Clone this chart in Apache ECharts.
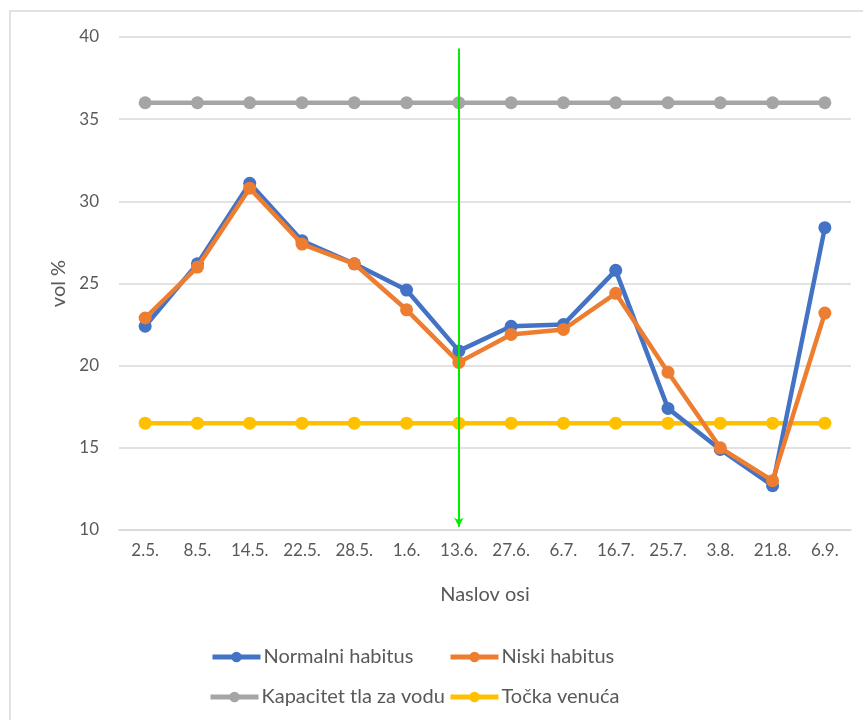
<!DOCTYPE html>
<html>
<head>
<meta charset="utf-8">
<script src="https://cdn.jsdelivr.net/npm/echarts@6/dist/echarts.min.js"></script>
<style>
  html, body { margin: 0; padding: 0; background: #fff; }
  #chart { width: 863px; height: 720px; }
</style>
</head>
<body>
<div id="chart"></div>
<script>
var chartDom = document.getElementById('chart');
var myChart = echarts.init(chartDom);

// datumi mjerenja
var dates = ['2.5.', '8.5.', '14.5.', '22.5.', '28.5.', '1.6.', '13.6.', '27.6.', '6.7.', '16.7.', '25.7.', '3.8.', '21.8.', '6.9.'];
var normalni = [22.4, 26.2, 31.1, 27.6, 26.2, 24.6, 20.9, 22.4, 22.5, 25.8, 17.4, 14.9, 12.7, 28.4];
var niski = [22.9, 26.0, 30.8, 27.4, 26.2, 23.4, 20.2, 21.9, 22.2, 24.4, 19.6, 15.0, 13.0, 23.2];
var kapacitet = [36, 36, 36, 36, 36, 36, 36, 36, 36, 36, 36, 36, 36, 36];
var venuce = [16.5, 16.5, 16.5, 16.5, 16.5, 16.5, 16.5, 16.5, 16.5, 16.5, 16.5, 16.5, 16.5, 16.5];
// zelena strelica kod 13.6.
var arrowDate = '13.6.';
var arrowFrom = 39.3;
var arrowTo = 10.2;

var font = 'Lato, "Open Sans", sans-serif';
var txt = '#595959';

function lineSeries(name, data, color, z) {
  return {
    name: name,
    type: 'line',
    data: data,
    z: z,
    symbol: 'circle',
    symbolSize: 13,
    lineStyle: { width: 4.5, color: color },
    itemStyle: { color: color },
    emphasis: { disabled: true },
    animation: false
  };
}

function legendAt(name, left, top) {
  return {
    data: [name],
    left: left,
    top: top,
    padding: 0,
    itemWidth: 48,
    itemHeight: 13,
    itemGap: 0,
    lineStyle: { width: 5 },
    textStyle: { fontFamily: font, fontSize: 20, color: txt, padding: [0, 0, 0, -2] },
    selectedMode: false
  };
}

var niskiSeries = lineSeries('Niski habitus', niski, '#ED7D31', 5);
niskiSeries.markLine = {
  silent: true,
  symbol: ['none', 'arrow'],
  symbolSize: [7, 9],
  label: { show: false },
  lineStyle: { color: '#00ee00', width: 2, type: 'solid' },
  data: [[{ coord: [arrowDate, arrowFrom] }, { coord: [arrowDate, arrowTo] }]],
  z: 10
};

var option = {
  backgroundColor: '#fff',
  animation: false,
  graphic: [{
    type: 'rect',
    shape: { x: 10, y: 11, width: 900, height: 800 },
    style: { fill: 'none', stroke: '#d9d9d9', lineWidth: 1.5 },
    z: -1
  }],
  grid: { left: 119, right: 12, top: 37, bottom: 190 },
  legend: [
    legendAt('Normalni habitus', 210, 647),
    legendAt('Niski habitus', 448, 647),
    legendAt('Kapacitet tla za vodu', 208, 687),
    legendAt('Točka venuća', 448, 687)
  ],
  xAxis: {
    type: 'category',
    data: dates,
    boundaryGap: true,
    name: 'Naslov osi',
    nameLocation: 'middle',
    nameGap: 55,
    nameMoveOverlap: false,
    nameTextStyle: { fontFamily: font, fontSize: 20, color: txt },
    axisLine: { lineStyle: { color: '#d9d9d9', width: 1.5 } },
    axisTick: { show: false },
    axisLabel: { fontFamily: font, fontSize: 17, color: txt, margin: 12 }
  },
  yAxis: {
    type: 'value',
    min: 10,
    max: 40,
    interval: 5,
    name: 'vol %',
    nameLocation: 'middle',
    nameGap: 29,
    nameRotate: 90,
    nameTextStyle: { fontFamily: font, fontSize: 20, color: txt },
    axisLine: { show: false },
    axisTick: { show: false },
    axisLabel: { fontFamily: font, fontSize: 17, color: txt, margin: 20 },
    splitLine: { lineStyle: { color: '#d9d9d9', width: 1.5 } }
  },
  series: [
    lineSeries('Kapacitet tla za vodu', kapacitet, '#A5A5A5', 2),
    lineSeries('Točka venuća', venuce, '#FFC000', 3),
    lineSeries('Normalni habitus', normalni, '#4472C4', 4),
    niskiSeries
  ]
};

myChart.setOption(option);
window.onresize = function () {
  myChart.resize();
};
</script>
</body>
</html>
